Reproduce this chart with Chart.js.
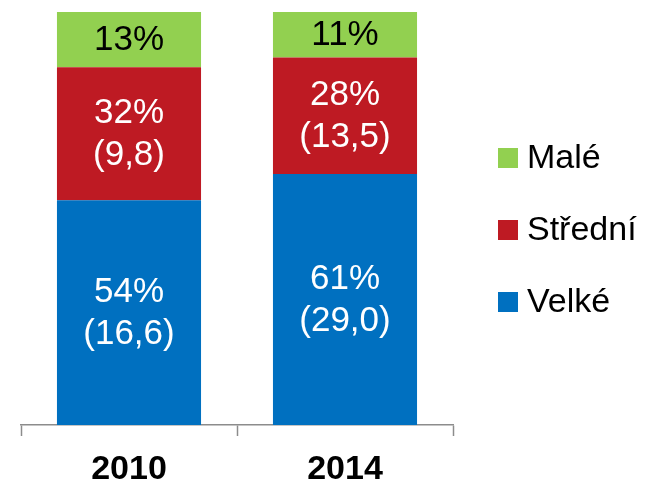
<!DOCTYPE html>
<html>
<head>
<meta charset="utf-8">
<script src="https://cdn.jsdelivr.net/npm/chart.js@4"></script>
<style>
  html, body { margin: 0; padding: 0; background: #fff; }
  #wrap { width: 650px; height: 485px; }
</style>
</head>
<body>
<div id="wrap"><canvas id="myChart"></canvas></div>
<script>
// data
const years = ['2010', '2014'];
const velke = [54.4, 60.8];
const stredni = [32.2, 28.2];
const male = [13.4, 11.0];
const velkeLabels = [['54%', '(16,6)'], ['61%', '(29,0)']];
const stredniLabels = [['32%', '(9,8)'], ['28%', '(13,5)']];
const maleLabels = [['13%'], ['11%']];

const FONT = "'Liberation Sans', Arial, sans-serif";

// text inside each segment
const segmentLabels = {
    id: 'segmentLabels',
    afterDatasetsDraw(chart) {
        const ctx = chart.ctx;
        ctx.save();
        ctx.font = '35px ' + FONT;
        ctx.textAlign = 'center';
        ctx.textBaseline = 'middle';
        chart.data.datasets.forEach((ds, i) => {
            chart.getDatasetMeta(i).data.forEach((bar, j) => {
                const lines = ds.segText[j];
                const mid = (bar.y + bar.base) / 2;
                const lh = 42;
                ctx.fillStyle = ds.textColor;
                lines.forEach((t, k) => {
                    ctx.fillText(t, bar.x, mid + (k - (lines.length - 1) / 2) * lh + 1);
                });
            });
        });
        ctx.restore();
    }
};

// legend on the right, top item = last dataset
const sideLegend = {
    id: 'sideLegend',
    afterDraw(chart) {
        const ctx = chart.ctx;
        ctx.save();
        ctx.font = '34px ' + FONT;
        ctx.textBaseline = 'middle';
        ctx.textAlign = 'left';
        const items = chart.data.datasets.slice().reverse();
        items.forEach((ds, k) => {
            const cy = 158 + k * 72;
            ctx.fillStyle = ds.backgroundColor;
            ctx.fillRect(498, cy - 10, 20, 20);
            ctx.fillStyle = '#000';
            ctx.fillText(ds.label, 527, cy + 1);
        });
        ctx.restore();
    }
};

function loadChart() {
    const ctx = document.getElementById('myChart').getContext('2d');
    new Chart(ctx, {
        type: 'bar',
        data: {
            labels: years,
            datasets: [
                { label: 'Velké', data: velke, backgroundColor: '#0070C0', segText: velkeLabels, textColor: '#fff' },
                { label: 'Střední', data: stredni, backgroundColor: '#BE1A23', segText: stredniLabels, textColor: '#fff' },
                { label: 'Malé', data: male, backgroundColor: '#92D050', segText: maleLabels, textColor: '#000' }
            ]
        },
        options: {
            responsive: true,
            maintainAspectRatio: false,
            animation: false,
            layout: { padding: { left: 21, right: 197, top: 12, bottom: 0 } },
            datasets: {
                bar: { barPercentage: 0.667, categoryPercentage: 1, borderWidth: 0 }
            },
            plugins: {
                legend: { display: false },
                tooltip: { enabled: false }
            },
            scales: {
                x: {
                    stacked: true,
                    afterFit: s => { s.height = 60; },
                    border: { display: true, color: '#8c8c8c', width: 1.5 },
                    grid: {
                        offset: true,
                        drawOnChartArea: false,
                        drawTicks: true,
                        tickLength: 11,
                        tickColor: '#8c8c8c',
                        tickWidth: 1.5
                    },
                    ticks: {
                        color: '#000',
                        padding: 17,
                        font: { family: FONT, size: 34, weight: 'bold', lineHeight: 1 }
                    }
                },
                y: {
                    stacked: true,
                    display: false,
                    min: 0,
                    max: 100
                }
            }
        },
        plugins: [segmentLabels, sideLegend]
    });
}

window.addEventListener('load', () => {
    loadChart();
});
</script>
</body>
</html>
